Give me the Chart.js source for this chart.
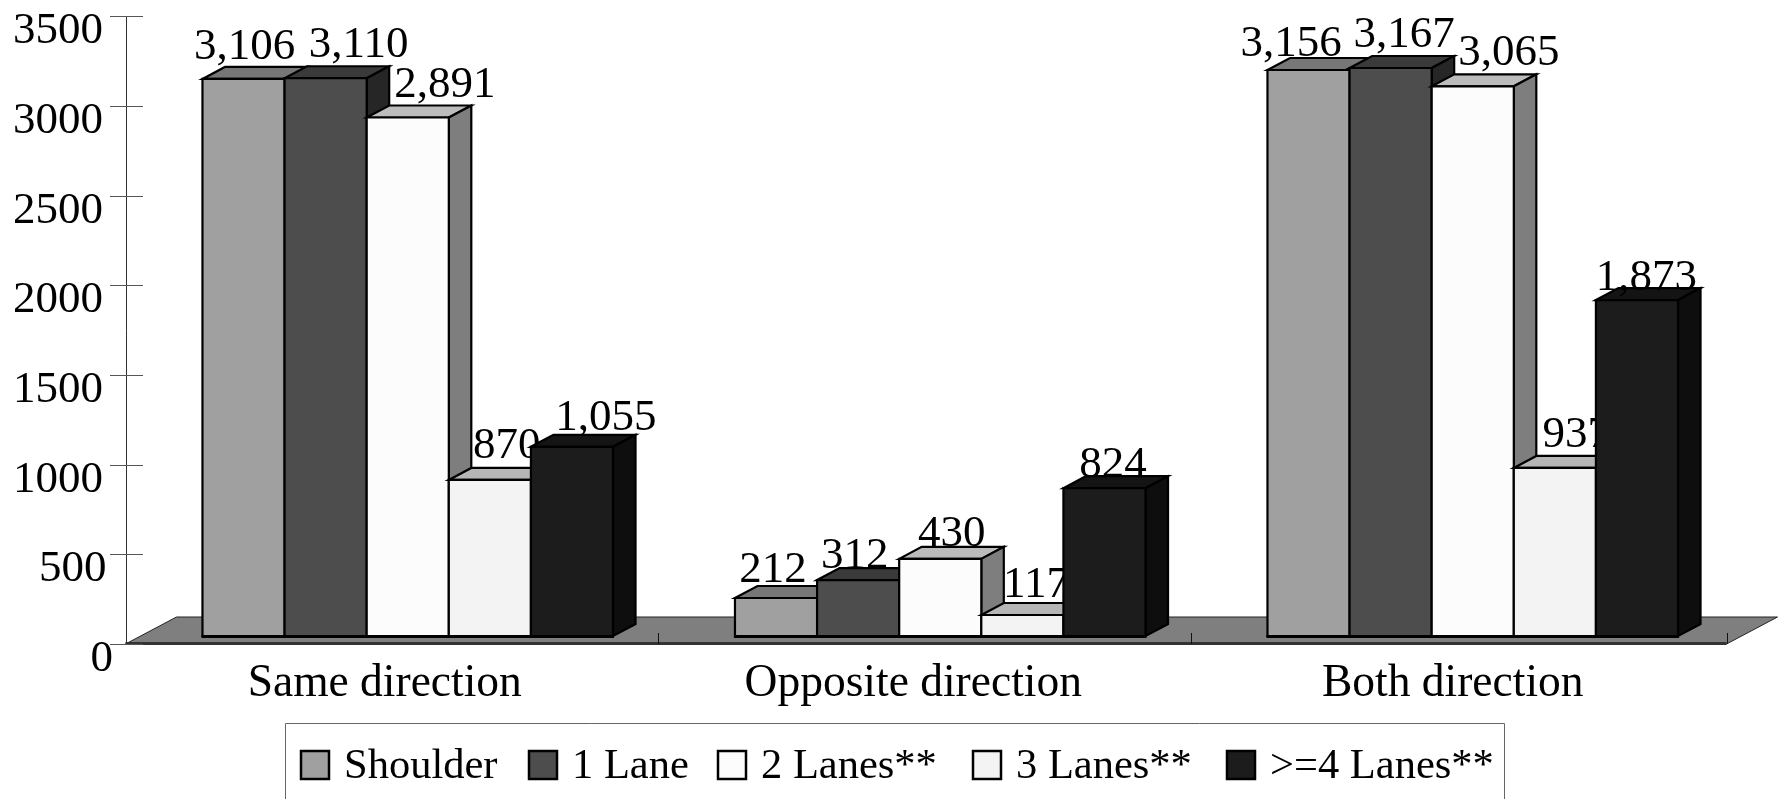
<!DOCTYPE html>
<html>
<head>
<meta charset="utf-8">
<title>Direction and lanes</title>
<script src="https://cdn.jsdelivr.net/npm/chart.js@4"></script>
<style>
  html, body { margin: 0; padding: 0; background: #fff; overflow: hidden; }
  canvas { display: block; }
</style>
</head>
<body>
<canvas id="myChart" width="1780" height="799"></canvas>
<script>
const categories = ['Same direction', 'Opposite direction', 'Both direction'];
const seriesNames = ['Shoulder', '1 Lane', '2 Lanes**', '3 Lanes**', '>=4 Lanes**'];
const shoulder = [3106, 212, 3156];
const oneLane = [3110, 312, 3167];
const twoLanes = [2891, 430, 3065];
const threeLanes = [870, 117, 937];
const fourLanes = [1055, 824, 1873];
const yTicks = [0, 500, 1000, 1500, 2000, 2500, 3000, 3500];

// [front, top, side] greys per series
const shades = [
  ['#a0a0a0', '#777777', '#5a5a5a'],
  ['#4d4d4d', '#3a3a3a', '#262626'],
  ['#fcfcfc', '#bcbcbc', '#7e7e7e'],
  ['#f3f3f3', '#b6b6b6', '#7a7a7a'],
  ['#1c1c1c', '#141414', '#0e0e0e']
];

// hand placed value labels in the original: [dx from bar centre, rise above bar top]
const labelNudge = [
  [[1, 20], [-3, 16.3], [-17.3, 14]],
  [[33, 21.4], [-3.4, 12], [13.4, 21.5]],
  [[37, 20.6], [11.6, 13.2], [36, 21.4]],
  [[17, 22], [13.6, 18.3], [21.4, 21.3]],
  [[34, 17], [8.6, 11.6], [9.4, 10]]
];
const yLabelRight = [113, 106.6, 103, 103, 103, 103, 103, 103];
const xLabelShift = [-7, -11, -4];
const legendSwatchX = [301, 529, 718, 973, 1227];

const FONT = '"Liberation Serif"';
const INK = '#000';
// bars stand this far inside the floor
const FRONT_DX = 16, FRONT_DY = 8;
const BAR_DX = 22.5, BAR_DY = 12;
const FLOOR_DX = 51, FLOOR_DY = 27;

function poly(ctx, pts, fill, stroke, lw) {
  ctx.beginPath();
  pts.forEach((p, i) => i ? ctx.lineTo(p[0], p[1]) : ctx.moveTo(p[0], p[1]));
  ctx.closePath();
  if (fill) { ctx.fillStyle = fill; ctx.fill(); }
  if (stroke) { ctx.strokeStyle = stroke; ctx.lineWidth = lw; ctx.stroke(); }
}

function drawAxes(chart) {
  const ctx = chart.ctx;
  const area = chart.chartArea;
  const xs = chart.scales.x;
  const ys = chart.scales.y;
  const right = area.right + 3.5;

  // floor
  poly(ctx, [
    [area.left, area.bottom],
    [area.left + FLOOR_DX, area.bottom - FLOOR_DY],
    [right + FLOOR_DX, area.bottom - FLOOR_DY],
    [right, area.bottom]
  ], '#7f7f7f', '#222', 1);
  ctx.fillStyle = '#333';
  ctx.fillRect(area.left, area.bottom - 2, right - area.left, 3);

  // category ticks standing on the floor edge
  ctx.strokeStyle = '#111';
  ctx.lineWidth = 1;
  const step = xs.getPixelForValue(1) - xs.getPixelForValue(0);
  categories.forEach((c, i) => {
    const x = i === 2 ? right : xs.getPixelForValue(i) + step / 2;
    ctx.beginPath();
    ctx.moveTo(Math.round(x) + 0.5, area.bottom - 11);
    ctx.lineTo(Math.round(x) + 0.5, area.bottom);
    ctx.stroke();
  });

  // value axis
  const ax = Math.round(area.left) + 0.5;
  ctx.strokeStyle = '#333';
  ctx.beginPath();
  ctx.moveTo(ax, area.top);
  ctx.lineTo(ax, area.bottom);
  ctx.stroke();
  ctx.font = '45px ' + FONT;
  ctx.textAlign = 'right';
  ctx.textBaseline = 'alphabetic';
  ys.ticks.forEach((t, i) => {
    const y = ys.getPixelForValue(t.value);
    ctx.strokeStyle = '#555';
    ctx.beginPath();
    ctx.moveTo(ax - 16.5, Math.round(y) + 0.5);
    ctx.lineTo(ax + 16.5, Math.round(y) + 0.5);
    ctx.stroke();
    ctx.fillStyle = INK;
    ctx.fillText(t.label, yLabelRight[i], y + 27);
  });

  // category labels
  ctx.font = '45.5px ' + FONT;
  ctx.textAlign = 'center';
  xs.ticks.forEach((t, i) => {
    ctx.fillText(t.label, xs.getPixelForValue(t.value) + xLabelShift[i], 696);
  });
}

function drawBar(ctx, bar, colors) {
  const l = bar.x - bar.width / 2 + FRONT_DX;
  const r = bar.x + bar.width / 2 + FRONT_DX;
  const t = bar.y - FRONT_DY;
  const b = bar.base - FRONT_DY;
  poly(ctx, [[l, t], [l + BAR_DX, t - BAR_DY], [r + BAR_DX, t - BAR_DY], [r, t]], colors[1], '#000', 2.2);
  poly(ctx, [[r, t], [r + BAR_DX, t - BAR_DY], [r + BAR_DX, b - BAR_DY], [r, b]], colors[2], '#000', 2.2);
  poly(ctx, [[l, t], [r, t], [r, b], [l, b]], colors[0], '#000', 2.2);
  ctx.fillStyle = '#000';
  ctx.fillRect(l - 1, b - 1, r - l + 2, 3);
}

function drawBars(chart) {
  const ctx = chart.ctx;
  categories.forEach((c, j) => {
    // left to right, so each bar hides the side of the one before it
    chart.data.datasets.forEach((ds, i) => {
      const bar = chart.getDatasetMeta(i).data[j];
      drawBar(ctx, bar, shades[i]);
      ctx.font = '45px ' + FONT;
      ctx.textAlign = 'center';
      ctx.textBaseline = 'alphabetic';
      ctx.fillStyle = INK;
      ctx.fillText(ds.data[j].toLocaleString('en-US'),
        bar.x + FRONT_DX + labelNudge[i][j][0],
        bar.y - FRONT_DY - labelNudge[i][j][1]);
    });
  });
}

function drawLegend(chart) {
  const ctx = chart.ctx;
  // box runs off the bottom of the picture
  ctx.strokeStyle = '#666';
  ctx.lineWidth = 1;
  ctx.beginPath();
  ctx.moveTo(285.5, 810);
  ctx.lineTo(285.5, 723.5);
  ctx.lineTo(1504.5, 723.5);
  ctx.lineTo(1504.5, 810);
  ctx.stroke();

  ctx.font = '42.5px ' + FONT;
  ctx.textAlign = 'left';
  ctx.textBaseline = 'alphabetic';
  chart.data.datasets.forEach((ds, i) => {
    const x = legendSwatchX[i];
    ctx.fillStyle = shades[i][0];
    ctx.fillRect(x, 751, 28, 28);
    ctx.strokeStyle = '#000';
    ctx.lineWidth = 2.5;
    ctx.strokeRect(x, 751, 28, 28);
    ctx.fillStyle = INK;
    ctx.fillText(ds.label, x + 43, 778);
  });
}

const bars3d = {
  id: 'bars3d',
  beforeDatasetsDraw(chart) {
    drawAxes(chart);
    drawBars(chart);
    drawLegend(chart);
    return false;
  }
};

const seriesValues = [shoulder, oneLane, twoLanes, threeLanes, fourLanes];

new Chart(document.getElementById('myChart'), {
  type: 'bar',
  plugins: [bars3d],
  data: {
    labels: categories,
    datasets: seriesNames.map((name, i) => ({
      label: name,
      data: seriesValues[i],
      backgroundColor: shades[i][0],
      categoryPercentage: 0.771,
      barPercentage: 1
    }))
  },
  options: {
    responsive: false,
    animation: false,
    layout: { padding: { left: 125.5, top: 16.3, right: 57, bottom: 155 } },
    plugins: { legend: { display: false }, tooltip: { enabled: false } },
    scales: {
      x: {
        grid: { display: false },
        border: { display: false },
        ticks: { display: false },
        afterFit: s => { s.height = 0; }
      },
      y: {
        min: yTicks[0],
        max: yTicks[yTicks.length - 1],
        grid: { display: false },
        border: { display: false },
        ticks: { display: false, stepSize: yTicks[1] - yTicks[0], callback: v => String(v) },
        afterFit: s => { s.width = 0; }
      }
    }
  }
});
</script>
</body>
</html>
